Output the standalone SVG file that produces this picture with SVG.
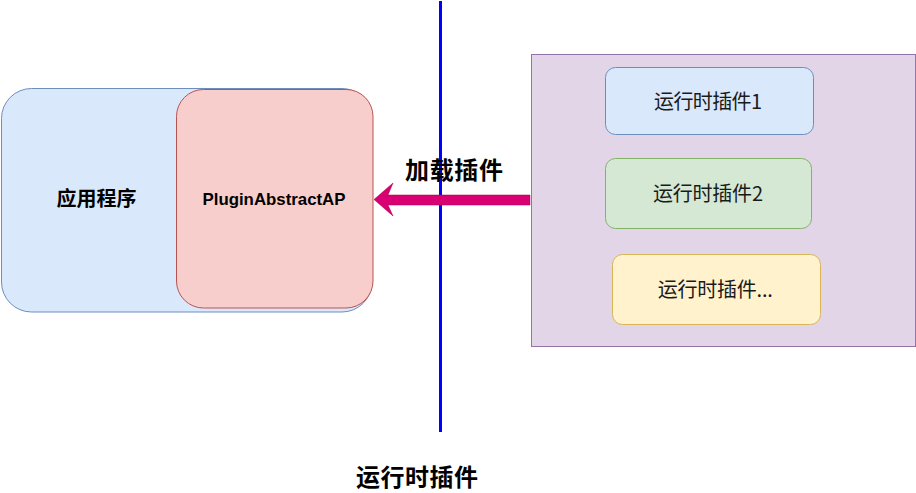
<svg xmlns="http://www.w3.org/2000/svg" width="916" height="493" viewBox="0 0 916 493">
<style>
.cjk{font-family:"Noto Sans CJK SC","Liberation Sans",sans-serif;}
.b{font-weight:bold;}
.lbl{font-size:20px;fill:#1a1a1a;text-anchor:middle;}
.big{font-size:24px;fill:#000;text-anchor:middle;font-weight:bold;}
</style>
<rect width="916" height="493" fill="#ffffff"/>
<g id="app">
<rect x="1.5" y="88.5" width="370.5" height="223.5" rx="30" ry="30" fill="#dae8fc" stroke="#6c8ebf" stroke-width="1"/>
<text class="cjk b" x="96.5" y="206" font-size="20" text-anchor="middle" fill="#000">应用程序</text>
</g>
<g id="pluginAbstract">
<rect x="176.5" y="89.5" width="196.5" height="218.5" rx="27" ry="27" fill="#f8cecc" stroke="#b85450" stroke-width="1"/>
<text x="274" y="205" font-family="'Liberation Sans',Arial,sans-serif" font-weight="bold" font-size="17" text-anchor="middle" textLength="143" lengthAdjust="spacingAndGlyphs" fill="#000">PluginAbstractAP</text>
</g>
<g id="container">
<rect x="531.5" y="54.5" width="384" height="292" fill="#e1d5e7" stroke="#9673a6" stroke-width="1"/>
</g>
<g id="plugin1">
<rect x="605.5" y="67.5" width="208" height="67" rx="10" ry="10" fill="#dae8fc" stroke="#6c8ebf"/>
<text class="cjk lbl" x="708" y="109" textLength="108">运行时插件1</text>
</g>
<g id="plugin2">
<rect x="605.5" y="158.5" width="206" height="70" rx="10" ry="10" fill="#d5e8d4" stroke="#82b366"/>
<text class="cjk lbl" x="708" y="201" textLength="110">运行时插件2</text>
</g>
<g id="plugin3">
<rect x="612.5" y="254.5" width="208" height="70" rx="10" ry="10" fill="#fff2cc" stroke="#d6b656"/>
<text class="cjk lbl" x="715.3" y="297" textLength="115">运行时插件...</text>
</g>
<g id="connectors">
<line x1="440.5" y1="1" x2="440.5" y2="432" stroke="#0000ff" stroke-width="3"/>
<path d="M374,199.5 L393,183 L388,195 L530,195 L530,205 L388,205 L393,216 Z" fill="#d80073" stroke="#a50040" stroke-width="0.5"/>
</g>
<g id="labels">
<text class="cjk big" x="454" y="178.5" textLength="98">加载插件</text>
<text class="cjk big" x="417" y="486" textLength="122">运行时插件</text>
</g>
</svg>
